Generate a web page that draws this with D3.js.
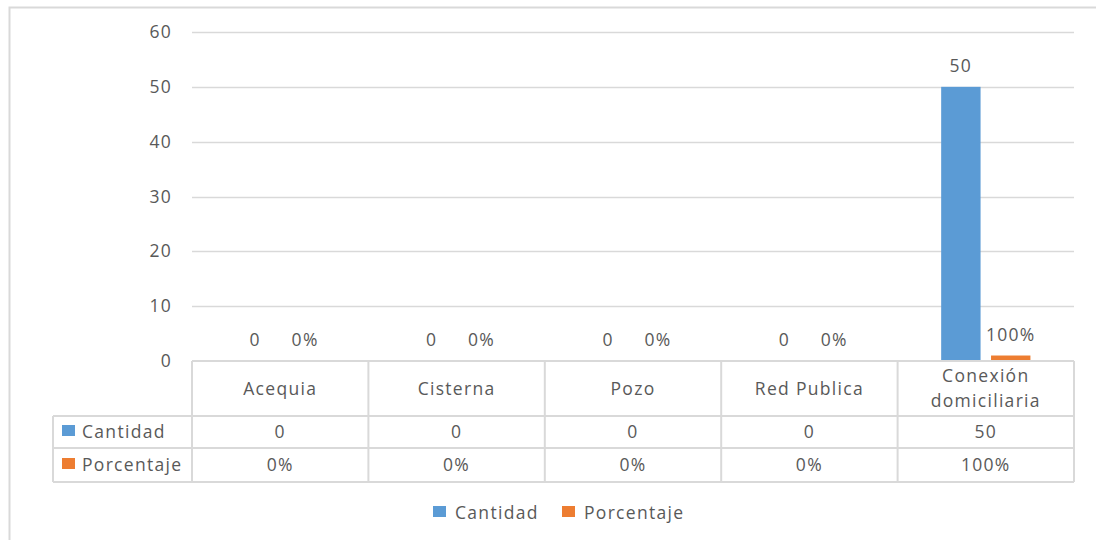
<!DOCTYPE html>
<html>
<head>
<meta charset="utf-8">
<script src="https://cdn.jsdelivr.net/npm/d3@7"></script>
<style>
  body { margin: 0; background: #fff; }
  text { font-family: "Open Sans", "DejaVu Sans", sans-serif; fill: #595959; font-size: 17.5px; letter-spacing: 1.3px; }
</style>
</head>
<body>
<div id="chart"></div>
<script>
const categories = ['Acequia', 'Cisterna', 'Pozo', 'Red Publica', 'Conexión domiciliaria'];
const series = ['Cantidad', 'Porcentaje'];
const cantidad = [0, 0, 0, 0, 50];
const porcentaje = [0, 0, 0, 0, 1];
const yTicks = [0, 10, 20, 30, 40, 50, 60];
const colors = { Cantidad: '#5b9bd5', Porcentaje: '#ed7d31' };

let config = {
  width: 1096,
  height: 540,
  plot: { left: 192, right: 1074, top: 32, bottom: 361 },
  rows: { header: 416, cantidad: 448, porcentaje: 482 },
  rowLabelLeft: 53
};

let fmt = {
  Cantidad: d => `${d}`,
  Porcentaje: d => `${Math.round(d * 100)}%`
};

let data = categories.map((c, i) => ({ cat: c, Cantidad: cantidad[i], Porcentaje: porcentaje[i] }));

let svg = d3.select('#chart')
  .append('svg')
  .attr('width', config.width)
  .attr('height', config.height);

// outer chart border (cut off at right and bottom)
svg.append('path')
  .attr('d', `M9.5,${config.height} V7.5 H${config.width}`)
  .attr('fill', 'none')
  .attr('stroke', '#d9d9d9')
  .attr('stroke-width', 2);

let yscale = d3.scaleLinear()
  .domain([0, 60])
  .range([config.plot.bottom, config.plot.top]);

let x0 = d3.scaleBand()
  .domain(categories)
  .range([config.plot.left, config.plot.right]);

let x1 = d3.scaleBand()
  .domain(series)
  .range([x0.bandwidth() * 0.247, x0.bandwidth() * 0.753])
  .paddingInner(0.21);

// gridlines
svg.append('g')
  .selectAll('line')
  .data(yTicks.filter(d => d > 0))
  .enter()
  .append('line')
  .attr('x1', config.plot.left)
  .attr('x2', config.plot.right)
  .attr('y1', d => Math.round(yscale(d)) + 0.5)
  .attr('y2', d => Math.round(yscale(d)) + 0.5)
  .attr('stroke', '#d9d9d9')
  .attr('stroke-width', 1.5);

// y axis labels
svg.append('g')
  .selectAll('text')
  .data(yTicks)
  .enter()
  .append('text')
  .attr('x', 172)
  .attr('y', d => yscale(d))
  .attr('dy', '0.35em')
  .attr('text-anchor', 'end')
  .text(d => d);

// bars
let groups = svg.append('g')
  .selectAll('g')
  .data(data)
  .enter()
  .append('g')
  .attr('transform', d => `translate(${x0(d.cat)},0)`);

groups.selectAll('rect')
  .data(d => series.map(s => ({ key: s, value: d[s] })))
  .enter()
  .append('rect')
  .attr('x', d => x1(d.key))
  .attr('width', x1.bandwidth())
  .attr('y', d => yscale(d.value))
  .attr('height', d => yscale(0) - yscale(d.value))
  .attr('fill', d => colors[d.key]);

groups.selectAll('text')
  .data(d => series.map(s => ({ key: s, value: d[s] })))
  .enter()
  .append('text')
  .attr('x', d => x1(d.key) + x1.bandwidth() / 2)
  .attr('y', d => yscale(d.value) - 15)
  .attr('text-anchor', 'middle')
  .text(d => fmt[d.key](d.value));

// data table
let table = svg.append('g')
  .attr('stroke', '#d9d9d9')
  .attr('stroke-width', 2)
  .attr('fill', 'none');

let r = config.rows;
// horizontal lines
table.append('line').attr('x1', config.plot.left).attr('x2', config.plot.right).attr('y1', config.plot.bottom).attr('y2', config.plot.bottom);
[r.header, r.cantidad, r.porcentaje].forEach(y => {
  table.append('line').attr('x1', config.rowLabelLeft).attr('x2', config.plot.right).attr('y1', y).attr('y2', y);
});
// vertical lines
let xs = categories.map(c => x0(c)).concat([config.plot.right]);
xs.forEach(x => {
  table.append('line').attr('x1', x).attr('x2', x).attr('y1', config.plot.bottom).attr('y2', r.porcentaje);
});
table.append('line').attr('x1', config.rowLabelLeft).attr('x2', config.rowLabelLeft).attr('y1', r.header).attr('y2', r.porcentaje);

// category header text
let headers = svg.append('g')
  .selectAll('text')
  .data(categories)
  .enter()
  .append('text')
  .attr('x', d => x0(d) + x0.bandwidth() / 2)
  .attr('y', (config.plot.bottom + r.header) / 2)
  .attr('text-anchor', 'middle');

headers.each(function (d) {
  let words = d === 'Conexión domiciliaria' ? ['Conexión', 'domiciliaria'] : [d];
  let el = d3.select(this);
  words.forEach((w, i) => {
    el.append('tspan')
      .attr('x', x0(d) + x0.bandwidth() / 2)
      .attr('dy', i === 0 ? `${0.35 - (words.length - 1) * 0.72}em` : '1.42em')
      .text(w);
  });
});

// row labels with legend keys
let rowY = { Cantidad: (r.header + r.cantidad) / 2, Porcentaje: (r.cantidad + r.porcentaje) / 2 };
series.forEach(s => {
  svg.append('rect')
    .attr('x', 62).attr('y', rowY[s] - 7)
    .attr('width', 13).attr('height', 11)
    .attr('fill', colors[s]);
  svg.append('text')
    .attr('x', 82).attr('y', rowY[s])
    .attr('dy', '0.35em')
    .text(s);
  svg.append('g')
    .selectAll('text')
    .data(data)
    .enter()
    .append('text')
    .attr('x', d => x0(d.cat) + x0.bandwidth() / 2)
    .attr('y', rowY[s])
    .attr('dy', '0.35em')
    .attr('text-anchor', 'middle')
    .text(d => fmt[s](d[s]));
});

// bottom legend
let legend = svg.append('g')
  .attr('transform', 'translate(433,513)');
let legendX = { Cantidad: 0, Porcentaje: 129 };
series.forEach(s => {
  legend.append('rect')
    .attr('x', legendX[s]).attr('y', -7)
    .attr('width', 13).attr('height', 11)
    .attr('fill', colors[s]);
  legend.append('text')
    .attr('x', legendX[s] + 22).attr('y', 0)
    .attr('dy', '0.35em')
    .text(s);
});
</script>
</body>
</html>
